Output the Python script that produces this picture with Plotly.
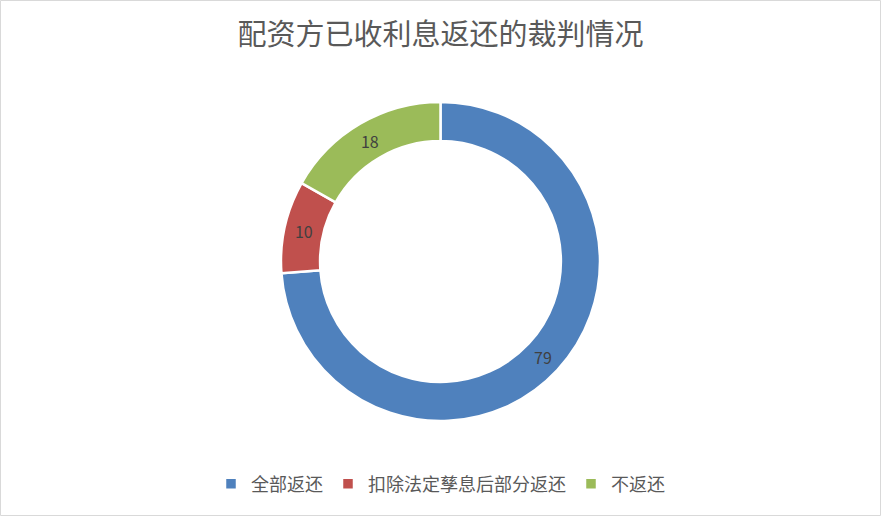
import plotly.graph_objects as go

labels = ["全部返还", "扣除法定孳息后部分返还", "不返还"]
values = [79, 10, 18]
colors = ["#4F81BD", "#C0504D", "#9BBB59"]

W, H = 881, 516
top, bottom = 102, 95
plot_h = H - top - bottom

fig = go.Figure()
fig.add_trace(go.Pie(labels=labels,
                     values=values,
                     hole=0.755,
                     sort=False,
                     direction="clockwise",
                     rotation=0,
                     textinfo="value",
                     textposition="inside",
                     insidetextorientation="horizontal",
                     textfont=dict(size=16, color="#404040",
                                   family="Noto Sans CJK SC"),
                     marker=dict(colors=colors,
                                 line=dict(color="white", width=2.5))))

fig.update_layout(
    width=W, height=H,
    margin=dict(l=0, r=0, t=top, b=bottom),
    paper_bgcolor="white",
    font=dict(family="Noto Sans CJK SC", color="#595959"),
    title=dict(text="配资方已收利息返还的裁判情况",
               x=0.5, xanchor="center",
               y=1 - 35 / H, yanchor="middle",
               font=dict(size=29, color="#595959")),
    legend=dict(orientation="h", x=0.5, xanchor="center",
                y=-(484 - (H - bottom)) / plot_h, yanchor="middle",
                font=dict(size=18, color="#595959"),
                itemwidth=30),
)

# outer chart frame
fig.add_shape(type="rect", xref="paper", yref="paper",
              x0=0.5 / W, x1=1 - 0.5 / W,
              y0=-(bottom - 0.5) / plot_h, y1=1 + (top - 0.5) / plot_h,
              line=dict(color="#D9D9D9", width=1))

# page body has a default 8px margin; drop it so the chart fills the window
fig.write_html("out.html",
               config={"displayModeBar": False},
               post_script="document.body.style.margin='0';")
